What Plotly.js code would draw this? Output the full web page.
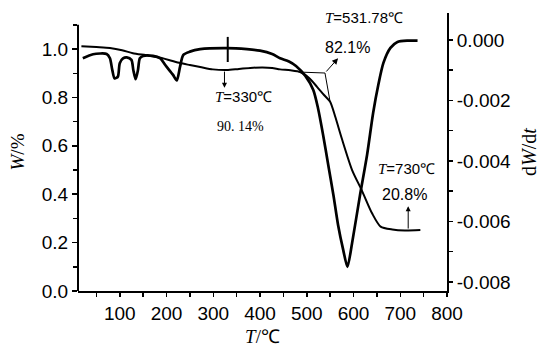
<!DOCTYPE html>
<html>
<head>
<meta charset="utf-8">
<script src="https://cdn.plot.ly/plotly-3.0.1.min.js"></script>
<style>body{margin:0;background:#fff}#chart{width:544px;height:347px}</style>
</head>
<body>
<div id="chart"></div>
<script>
// TG curve (mass fraction W vs temperature)
const tgT = [18, 50, 79, 105, 128, 155, 180, 205, 229, 250, 272, 299, 329, 355, 379, 405, 426, 443, 465, 486, 505, 522, 537, 550, 561, 575, 597, 618, 640, 658, 683, 710, 743];
const tgW = [1.012, 1.008, 1.004, 0.995, 0.983, 0.975, 0.967, 0.955, 0.942, 0.934, 0.926, 0.916, 0.913, 0.918, 0.922, 0.924, 0.922, 0.916, 0.912, 0.905, 0.88, 0.844, 0.81, 0.782, 0.72, 0.63, 0.50, 0.415, 0.32, 0.266, 0.254, 0.25, 0.252];
// DTG curve (dW/dt vs temperature)
const dtgT = [21, 43, 72, 79, 84, 89, 96, 100, 107, 115, 125, 129, 134, 139, 143, 150, 171, 186, 200, 214, 222, 229, 236, 250, 272, 329, 372, 400, 426, 443, 462, 477, 497, 514, 524, 535, 546, 557, 567, 578, 587, 597, 614, 629, 642, 653, 664, 679, 694, 717, 737];
const dtgV = [-0.000605, -0.000473, -0.000463, -0.000605, -0.000992, -0.001273, -0.001213, -0.00077, -0.000612, -0.000579, -0.000661, -0.000992, -0.001299, -0.000992, -0.000605, -0.000529, -0.000529, -0.000605, -0.000883, -0.001157, -0.001339, -0.000883, -0.000496, -0.000387, -0.000307, -0.000274, -0.000307, -0.000354, -0.000463, -0.000605, -0.000711, -0.00086, -0.00119, -0.001653, -0.002248, -0.00314, -0.004132, -0.005124, -0.006116, -0.006942, -0.007504, -0.006711, -0.005124, -0.003802, -0.002413, -0.001488, -0.00076, -0.000264, -0.000066, -0.000023, -0.000023];
// tick labels
const xTicks = [100, 200, 300, 400, 500, 600, 700, 800];
const wTicks = [0, 0.2, 0.4, 0.6, 0.8, 1.0];
const wTickText = ['0.0', '0.2', '0.4', '0.6', '0.8', '1.0'];
const dTicks = [-0.008, -0.006, -0.004, -0.002, 0];
const dTickText = ['-0.008', '-0.006', '-0.004', '-0.002', '0.000'];
// annotation anchors
const onsetT = 539, onsetW = 0.901;
const narrow = '"Liberation Sans Narrow", "Arial Narrow", "Liberation Sans", Arial, sans-serif';
const serif = '"Liberation Serif", "Times New Roman", serif';

const traces = [
  {x: tgT, y: tgW, type: 'scatter', mode: 'lines', line: {color: '#000', width: 2, shape: 'spline', smoothing: 0.7}, yaxis: 'y', hoverinfo: 'skip'},
  {x: dtgT, y: dtgV, type: 'scatter', mode: 'lines', line: {color: '#000', width: 2.7, shape: 'spline', smoothing: 0.7}, yaxis: 'y2', hoverinfo: 'skip'}
];

const Tspan = t => '<span style="font-family:Liberation Serif"><i>T</i></span>' + t;

const layout = {
  width: 544, height: 347,
  margin: {l: 78, r: 97, t: 13, b: 56},
  paper_bgcolor: '#fff', plot_bgcolor: '#fff',
  showlegend: false,
  font: {family: narrow, color: '#000', size: 19},
  xaxis: {
    range: [10.7, 800], tickmode: 'array', tickvals: xTicks, ticktext: xTicks.map(String),
    showline: true, linewidth: 2, linecolor: '#000', ticks: 'outside', ticklen: 4, tickwidth: 1.5, tickcolor: '#000',
    minor: {tickmode: 'linear', tick0: 50, dtick: 100, ticks: 'outside', ticklen: 4, tickwidth: 1.5, tickcolor: '#000'},
    showgrid: false, zeroline: false, automargin: false,
    tickfont: {family: narrow, size: 19},
    title: {text: '<i>T</i>/℃', font: {family: serif, size: 19}, standoff: 8}
  },
  yaxis: {
    range: [0, 1.149], tickmode: 'array', tickvals: wTicks, ticktext: wTickText,
    showline: false, ticks: 'outside', ticklen: 5, tickwidth: 1.5, tickcolor: '#000',
    minor: {tickmode: 'linear', tick0: 0, dtick: 0.1, ticks: 'outside', ticklen: 4, tickwidth: 1.5, tickcolor: '#000'},
    showgrid: false, zeroline: false, automargin: false,
    tickfont: {family: narrow, size: 19},
    title: {text: '<i>W</i>/%', font: {family: serif, size: 19}, standoff: 12}
  },
  yaxis2: {
    overlaying: 'y', side: 'right', anchor: 'x',
    range: [-0.0083, 0.00089], tickmode: 'array', tickvals: dTicks, ticktext: dTickText,
    showline: true, linewidth: 2, linecolor: '#000', ticks: 'outside', ticklen: 4, tickwidth: 1.5, tickcolor: '#000',
    minor: {tickmode: 'linear', tick0: 0, dtick: 0.001, ticks: 'outside', ticklen: 4, tickwidth: 1.5, tickcolor: '#000'},
    showgrid: false, zeroline: false, automargin: false,
    tickfont: {family: narrow, size: 19},
    title: {text: 'd<i>W</i>/d<i>t</i>', font: {family: serif, size: 20}, standoff: 12}
  },
  shapes: [
    // left axis line (shorter than the plot area)
    {type: 'line', xref: 'paper', yref: 'y', x0: 0, x1: 0, y0: 0, y1: 1.1, line: {color: '#000', width: 2}},
    // tangent construction for onset
    {type: 'line', xref: 'x', yref: 'y', x0: 482, y0: 0.905, x1: onsetT, y1: onsetW, line: {color: '#000', width: 1}},
    {type: 'line', xref: 'x', yref: 'y', x0: onsetT, y0: onsetW, x1: 550, y1: 0.782, line: {color: '#000', width: 1}},
    // marker on DTG at 330
    {type: 'line', xref: 'x', yref: 'y2', x0: 331, x1: 331, y0: 0.0001, y1: -0.00073, line: {color: '#000', width: 2}}
  ],
  annotations: [
    {xref: 'x', yref: 'y', x: 567, y: 0.962, axref: 'x', ayref: 'y', ax: onsetT, ay: onsetW, showarrow: true, arrowhead: 2, arrowsize: 1.2, arrowwidth: 1, arrowcolor: '#000', text: ''},
    {xref: 'x', yref: 'y', x: 324, y: 0.84, axref: 'x', ayref: 'y', ax: 324, ay: 0.913, showarrow: true, arrowhead: 2, arrowsize: 1, arrowwidth: 1, arrowcolor: '#000', text: ''},
    {xref: 'x', yref: 'y', x: 717, y: 0.35, axref: 'x', ayref: 'y', ax: 717, ay: 0.252, showarrow: true, arrowhead: 2, arrowsize: 1, arrowwidth: 1, arrowcolor: '#000', text: ''},
    {xref: 'x', yref: 'y', x: 299, y: 0.802, xanchor: 'left', yanchor: 'middle', showarrow: false, text: Tspan('=330℃'), font: {family: narrow, size: 15}},
    {xref: 'x', yref: 'y', x: 303, y: 0.678, xanchor: 'left', yanchor: 'middle', showarrow: false, text: '90. 14%', font: {family: serif, size: 14}},
    {xref: 'x', yref: 'y', x: 535, y: 1.132, xanchor: 'left', yanchor: 'middle', showarrow: false, text: Tspan('=531.78℃'), font: {family: narrow, size: 15}},
    {xref: 'x', yref: 'y', x: 535, y: 1.008, xanchor: 'left', yanchor: 'middle', showarrow: false, text: '82.1%', font: {family: narrow, size: 16}},
    {xref: 'x', yref: 'y', x: 648, y: 0.505, xanchor: 'left', yanchor: 'middle', showarrow: false, text: Tspan('=730℃'), font: {family: narrow, size: 15}},
    {xref: 'x', yref: 'y', x: 657, y: 0.398, xanchor: 'left', yanchor: 'middle', showarrow: false, text: '20.8%', font: {family: narrow, size: 16}}
  ]
};

Plotly.newPlot('chart', traces, layout, {staticPlot: true, displayModeBar: false});
</script>
</body>
</html>
